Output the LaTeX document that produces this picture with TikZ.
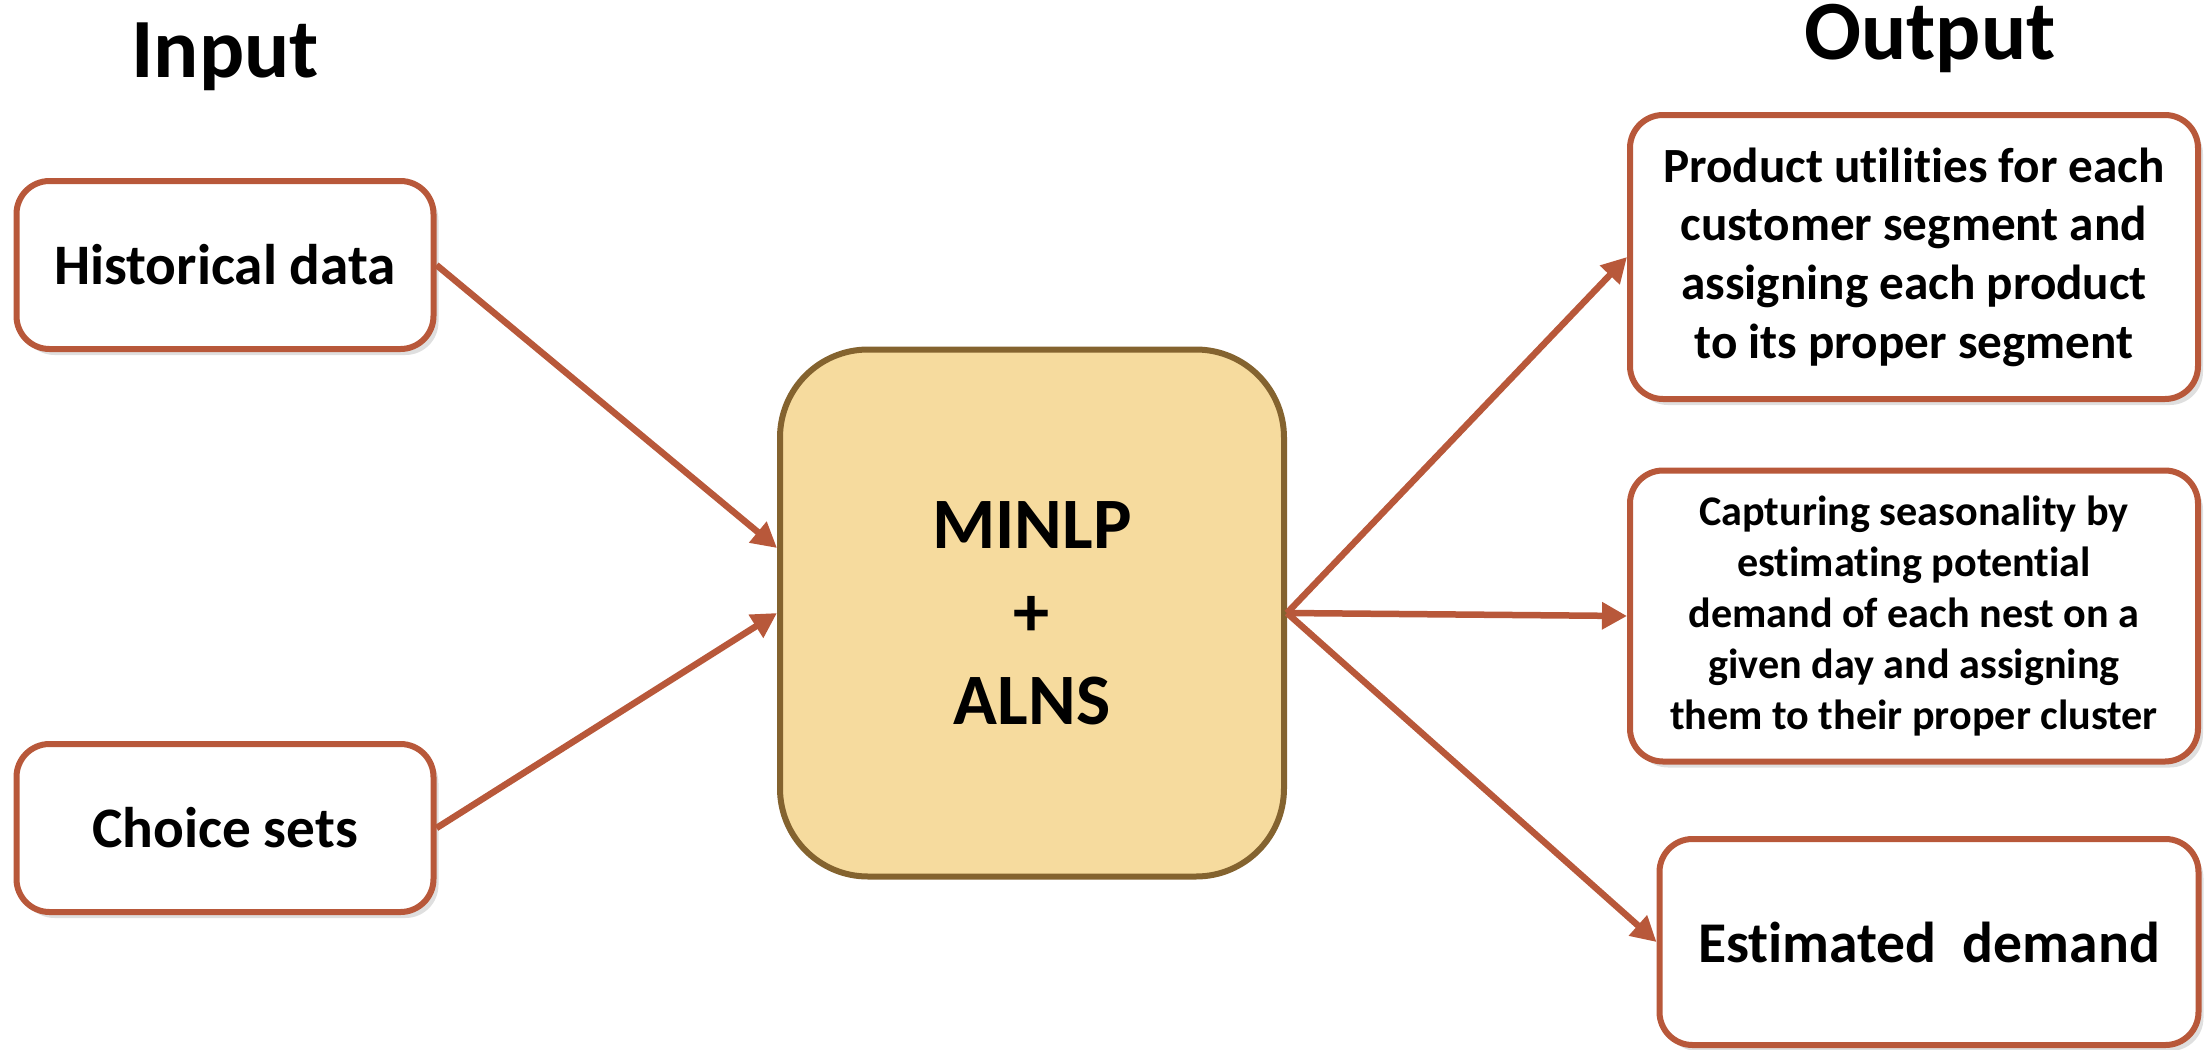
\documentclass[tikz,border=0pt]{standalone}
\usepackage{fontspec}
\setmainfont[RawFeature=-liga]{Carlito}
\usetikzlibrary{arrows.meta,shadows}

\definecolor{rust}{RGB}{184,88,58}
\definecolor{wheat}{RGB}{246,219,158}
\definecolor{bronze}{RGB}{132,99,47}

\begin{document}
\begin{tikzpicture}[x=0.1mm,y=-0.1mm,
  title/.style={font=\fontsize{24}{28}\selectfont\bfseries},
  databox/.style={draw=rust, line width=0.6mm, fill=white, inner sep=0pt,
    align=center, rounded corners=3.3mm,
    drop shadow={shadow xshift=0.5mm, shadow yshift=-0.6mm, opacity=0.25}},
  solver/.style={draw=bronze, line width=0.6mm, fill=wheat, inner sep=0pt,
    align=center, rounded corners=8.8mm,
    font=\fontsize{20.6}{25}\selectfont\bfseries},
  flow/.style={draw=rust, line width=0.65mm, -{Triangle[length=2.5mm,width=2.6mm]}}]

  \useasboundingbox (0,0) rectangle (2205,1049);

  %%%%%%%%%%%%%%%%%%%%%%%%%%%%%%%%%%%%%%%%%%%%%%%%%%%%%%%%%%%%%%%%%%%%%%%%%%%%5
  %% Headings
  %%%%%%%%%%%%%%%%%%%%%%%%%%%%%%%%%%%%%%%%%%%%%%%%%%%%%%%%%%%%%%%%%%%%%%%%%%%%5

  \node [title, anchor=base] (input)  at (225,77)  {Input};
  \node [title, anchor=base] (output) at (1930,59) {Output};

  %%%%%%%%%%%%%%%%%%%%%%%%%%%%%%%%%%%%%%%%%%%%%%%%%%%%%%%%%%%%%%%%%%%%%%%%%%%%5
  %% Boxes
  %%%%%%%%%%%%%%%%%%%%%%%%%%%%%%%%%%%%%%%%%%%%%%%%%%%%%%%%%%%%%%%%%%%%%%%%%%%%5

  % Input side
  \node [databox, minimum width=41.7mm, minimum height=16.8mm,
    font=\fontsize{16.3}{19}\selectfont\bfseries] (hist) at (225,265) {Historical data};
  \node [databox, minimum width=41.7mm, minimum height=16.8mm,
    font=\fontsize{16.3}{19}\selectfont\bfseries] (choice) at (225,828) {Choice sets};

  % The solver in the middle
  \node [solver, minimum width=50.4mm, minimum height=52.7mm] (minlp) at (1032,613)
    {MINLP\\+\\ALNS};

  % Output side
  \node [databox, minimum width=56.8mm, minimum height=28.4mm,
    font=\fontsize{14}{16.7}\selectfont\bfseries] (outA) at (1914,257)
    {Product utilities for each\\customer segment and\\assigning each product\\to its proper segment};
  \node [databox, minimum width=56.8mm, minimum height=29.1mm,
    font=\fontsize{12}{14.5}\selectfont\bfseries] (outB) at (1914,616)
    {Capturing seasonality by\\estimating potential\\demand of each nest on a\\given day and assigning\\them to their proper cluster};
  \node [databox, minimum width=53.9mm, minimum height=20.6mm,
    font=\fontsize{16.4}{19}\selectfont\bfseries] (outC) at (1929,942)
    {Estimated\ \ demand};

  %%%%%%%%%%%%%%%%%%%%%%%%%%%%%%%%%%%%%%%%%%%%%%%%%%%%%%%%%%%%%%%%%%%%%%%%%%%%5
  %% Arrows
  %%%%%%%%%%%%%%%%%%%%%%%%%%%%%%%%%%%%%%%%%%%%%%%%%%%%%%%%%%%%%%%%%%%%%%%%%%%%5

  \draw [flow] (hist.east) -- ([yshift=6.5mm]minlp.west);
  \draw [flow] (choice.east) -- (minlp.west);

  \foreach \o in {outA,outB,outC}
    \draw [flow] (minlp.east) -- (\o.west);

\end{tikzpicture}
\end{document}
